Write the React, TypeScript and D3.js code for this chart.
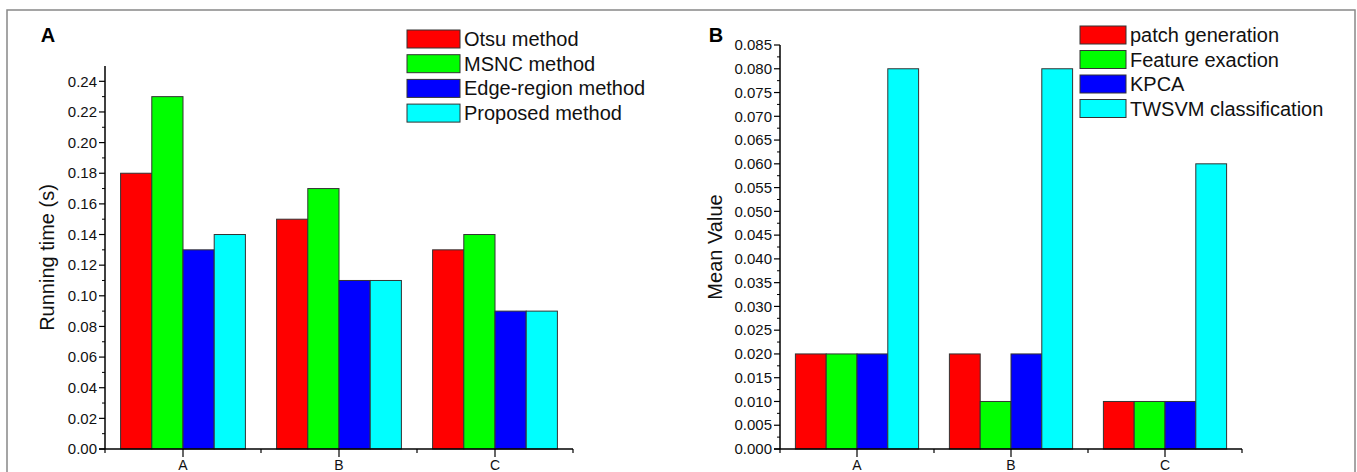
import React from "react";
import * as d3 from "d3";

const categories = ["A", "B", "C"];

const seriesNamesA = ["Otsu method", "MSNC method", "Edge-region method", "Proposed method"];
const otsuValues = [0.18, 0.15, 0.13];
const msncValues = [0.23, 0.17, 0.14];
const edgeRegionValues = [0.13, 0.11, 0.09];
const proposedValues = [0.14, 0.11, 0.09];
const ticksA = [0, 0.02, 0.04, 0.06, 0.08, 0.1, 0.12, 0.14, 0.16, 0.18, 0.2, 0.22, 0.24];

const seriesNamesB = ["patch generation", "Feature exaction", "KPCA", "TWSVM classification"];
const patchValues = [0.02, 0.02, 0.01];
const featureValues = [0.02, 0.01, 0.01];
const kpcaValues = [0.02, 0.02, 0.01];
const twsvmValues = [0.08, 0.08, 0.06];
const ticksB = [0, 0.005, 0.01, 0.015, 0.02, 0.025, 0.03, 0.035, 0.04, 0.045, 0.05, 0.055, 0.06, 0.065, 0.07, 0.075, 0.08, 0.085];

const colors = ["#ff0000", "#00ff00", "#0000ff", "#00ffff"];
const FONT = "Arial, 'Liberation Sans', sans-serif";

type PanelProps = {
  letter: string;
  letterX: number;
  yTitle: string;
  yTitleX: number;
  xStart: number;
  xEnd: number;
  yZero: number;
  yMaxPx: number;
  yMax: number;
  ticks: number[];
  minorStep: number;
  fmt: string;
  series: number[][];
  names: string[];
  legendX: number;
  legendW: number;
  legendY0: number;
  legendPitch: number;
};

function Panel(p: PanelProps) {
  const y = d3.scaleLinear().domain([0, p.yMax]).range([p.yZero, p.yMaxPx]);
  const x0 = d3.scaleBand<string>().domain(categories).range([p.xStart, p.xEnd]).paddingInner(0.2).paddingOuter(0.1);
  const x1 = d3.scaleBand<number>().domain(d3.range(p.series.length)).range([0, x0.bandwidth()]);
  const format = d3.format(p.fmt);
  const topVal = p.ticks[p.ticks.length - 1];
  const minor = d3.range(0, topVal + 1e-9, p.minorStep).filter(v => !p.ticks.some(t => Math.abs(t - v) < 1e-9));
  const step = x0.step();
  const bounds = categories.map(c => (x0(c) as number) - step * 0.1).concat([p.xEnd]);
  const axisTop = y(p.yMax);
  return (
    <g>
      <text x={p.letterX} y={42} fontFamily={FONT} fontWeight="bold" fontSize={20} textAnchor="middle">{p.letter}</text>
      {p.series.map((vals, si) =>
        categories.map((c, ci) => (
          <rect key={`${si}-${ci}`} x={(x0(c) as number) + (x1(si) as number)} y={y(vals[ci])}
            width={x1.bandwidth()} height={p.yZero - y(vals[ci])}
            fill={colors[si]} stroke="#333" strokeWidth={1} />
        ))
      )}
      <line x1={p.xStart} x2={p.xStart} y1={axisTop} y2={p.yZero} stroke="#000" strokeWidth={1.5} />
      <line x1={p.xStart - 6} x2={p.xEnd} y1={p.yZero} y2={p.yZero} stroke="#000" strokeWidth={1.5} />
      {p.ticks.map(t => (
        <g key={"t" + t}>
          <line x1={p.xStart - 6} x2={p.xStart} y1={y(t)} y2={y(t)} stroke="#000" strokeWidth={1.2} />
          <text x={p.xStart - 8} y={y(t)} dy="0.35em" textAnchor="end" fontFamily={FONT} fontSize={15} fill="#111">{format(t)}</text>
        </g>
      ))}
      {minor.map(t => (
        <line key={"m" + t} x1={p.xStart - 3} x2={p.xStart} y1={y(t)} y2={y(t)} stroke="#000" strokeWidth={1} />
      ))}
      {categories.map(c => {
        const cx = (x0(c) as number) + x0.bandwidth() / 2;
        return (
          <g key={"c" + c}>
            <line x1={cx} x2={cx} y1={p.yZero} y2={p.yZero + 8} stroke="#000" strokeWidth={1.2} />
            <text x={cx} y={470} textAnchor="middle" fontFamily={FONT} fontSize={14} fill="#111">{c}</text>
          </g>
        );
      })}
      {bounds.map((b, i) => (
        <line key={"b" + i} x1={b} x2={b} y1={p.yZero} y2={p.yZero + 4} stroke="#000" strokeWidth={1.2} />
      ))}
      <text transform={`translate(${p.yTitleX},${(p.yZero + axisTop) / 2}) rotate(-90)`} textAnchor="middle"
        fontFamily={FONT} fontSize={20} fill="#111">{p.yTitle}</text>
      {p.names.map((n, i) => {
        const cy = p.legendY0 + i * p.legendPitch;
        return (
          <g key={"l" + i}>
            <rect x={p.legendX} y={cy - 9} width={p.legendW} height={18} fill={colors[i]} stroke="#333" strokeWidth={1} />
            <text x={p.legendX + p.legendW + 4} y={cy} dy="0.35em" fontFamily={FONT} fontSize={20} fill="#111">{n}</text>
          </g>
        );
      })}
    </g>
  );
}

export default function App() {
  return (
    <svg width={1357} height={472} style={{ position: "absolute", left: 0, top: 0, background: "#fff" }}>
      <rect x={0} y={0} width={1357} height={472} fill="#fff" />
      <rect x={7} y={10} width={1348} height={500} fill="none" stroke="#888" strokeWidth={1.5} />
      <Panel letter="A" letterX={48} yTitle="Running time (s)" yTitleX={54} xStart={105} xEnd={573}
        yZero={449} yMaxPx={66} yMax={0.25} ticks={ticksA} minorStep={0.01} fmt=".2f"
        series={[otsuValues, msncValues, edgeRegionValues, proposedValues]} names={seriesNamesA}
        legendX={407} legendW={53} legendY0={39} legendPitch={24.7} />
      <Panel letter="B" letterX={716} yTitle="Mean Value" yTitleX={722} xStart={780} xEnd={1242}
        yZero={449} yMaxPx={45} yMax={0.085} ticks={ticksB} minorStep={0.0025} fmt=".3f"
        series={[patchValues, featureValues, kpcaValues, twsvmValues]} names={seriesNamesB}
        legendX={1080} legendW={46} legendY0={35} legendPitch={24.5} />
    </svg>
  );
}
